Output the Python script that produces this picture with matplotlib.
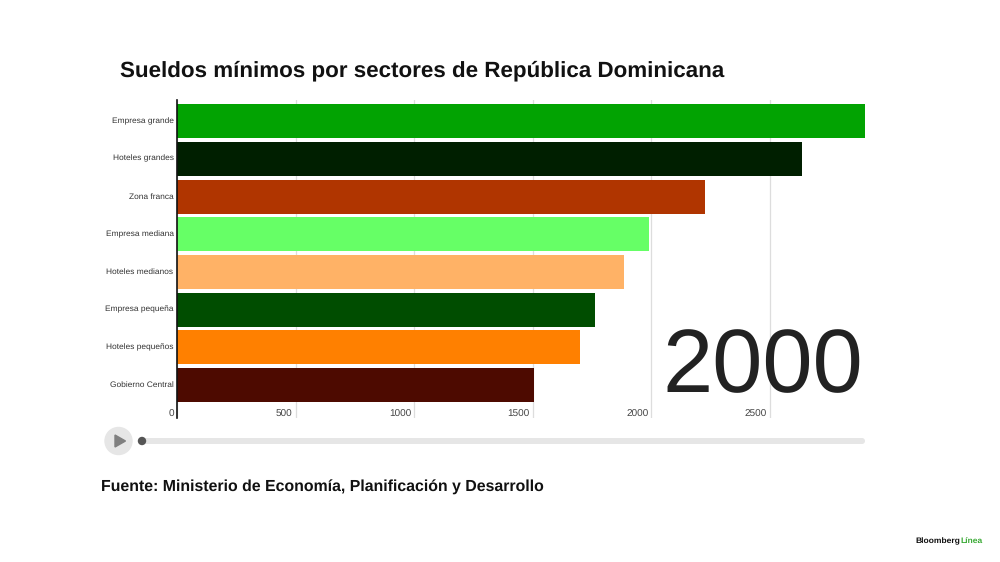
from __future__ import annotations

import matplotlib.pyplot as plt
from matplotlib.patches import Circle, FancyBboxPatch, Polygon
from matplotlib.transforms import ScaledTranslation

W, H = 1000, 562

SECTORS = [
    "Empresa grande",
    "Hoteles grandes",
    "Zona franca",
    "Empresa mediana",
    "Hoteles medianos",
    "Empresa pequeña",
    "Hoteles pequeños",
    "Gobierno Central",
]
SALARIES = [2900, 2636, 2226, 1991, 1885, 1762, 1699, 1505]
COLORS = ["#02a302", "#001f00", "#b03500", "#66ff66", "#ffb266", "#004d00", "#ff8000", "#4d0a00"]
X_TICKS = [0, 500, 1000, 1500, 2000, 2500]
YEAR = "2000"

TITLE = "Sueldos mínimos por sectores de República Dominicana"
SOURCE = "Fuente: Ministerio de Economía, Planificación y Desarrollo"
FONT = "Liberation Sans"

plt.rcParams["text.hinting"] = "no_hinting"
plt.rcParams["text.hinting_factor"] = 8


def px_axes(fig, left, top, right, bottom):
    return fig.add_axes([left / W, 1 - bottom / H, (right - left) / W, (bottom - top) / H])


def draw_bars(fig) -> None:
    ax = px_axes(fig, 177, 100, 865, 418)
    ax.barh(range(len(SECTORS)), SALARIES, height=0.9, color=COLORS, zorder=2)
    ax.set_xlim(0, 2900)
    ax.set_ylim(7.87, -0.56)

    ax.set_xticks(X_TICKS)
    ax.set_xticklabels([])
    ax.grid(axis="x", color="#dddddd", linewidth=0.9, zorder=0)
    ax.tick_params(axis="both", length=0)
    ax.set_yticks(range(len(SECTORS)))
    ax.set_yticklabels(SECTORS, fontsize=6.0, color="#333333", family=FONT)
    ax.tick_params(axis="y", pad=2.5)
    nudge = ScaledTranslation(0, 1 / 100, fig.dpi_scale_trans)
    for label in ax.get_yticklabels():
        label.set_transform(label.get_transform() + nudge)
    for side in ("top", "right", "bottom"):
        ax.spines[side].set_visible(False)
    ax.spines["left"].set_color("#111111")
    ax.spines["left"].set_linewidth(1.2)
    ax.spines["left"].set_zorder(3)

    for tick in X_TICKS:
        ax.annotate(
            str(tick),
            xy=(tick, 1),
            xycoords=("data", "axes fraction"),
            xytext=(-2.2, -314.5 * 0.72),
            textcoords="offset points",
            ha="right",
            va="center",
            fontsize=7.2,
            color="#444444",
            family=FONT,
        )

    ax.annotate(
        YEAR,
        xy=(1, 0),
        xycoords="axes fraction",
        xytext=(-1.5, 49 * 0.72),
        textcoords="offset points",
        ha="right",
        va="center",
        fontsize=65,
        color="#222222",
        family=FONT,
    )


def draw_player(overlay) -> None:
    overlay.add_patch(Circle((118.5, 441), 13.5, color="#e6e6e6"))
    overlay.add_patch(Polygon([(115, 435), (115, 447), (125.5, 441)], color="#808080"))
    overlay.add_patch(
        FancyBboxPatch(
            (142, 438),
            723,
            6,
            boxstyle="round,pad=0,rounding_size=3",
            mutation_aspect=1,
            linewidth=0,
            facecolor="#e6e6e6",
        )
    )
    overlay.add_patch(Circle((142, 441), 3.5, color="#555555"))


def main() -> None:
    fig = plt.figure(figsize=(10, 5.62), dpi=100, facecolor="white")
    draw_bars(fig)

    overlay = fig.add_axes([0, 0, 1, 1], facecolor="none")
    overlay.set_xlim(0, W)
    overlay.set_ylim(H, 0)
    overlay.axis("off")
    draw_player(overlay)

    overlay.text(120, 71, TITLE, fontsize=16.1, fontweight="bold", family=FONT, color="#111111", va="center")
    overlay.text(101, 487.5, SOURCE, fontsize=11.4, fontweight="bold", family=FONT, color="#111111", va="center")
    overlay.text(915, 541, "Bloomberg", fontsize=6.1, fontweight="bold", family=FONT, color="#111111", va="center")
    overlay.text(960, 541, "Línea", fontsize=6.1, fontweight="bold", family=FONT, color="#3aaa35", va="center")

    fig.savefig("out.png", dpi=100)
    plt.close(fig)


if __name__ == "__main__":
    main()
